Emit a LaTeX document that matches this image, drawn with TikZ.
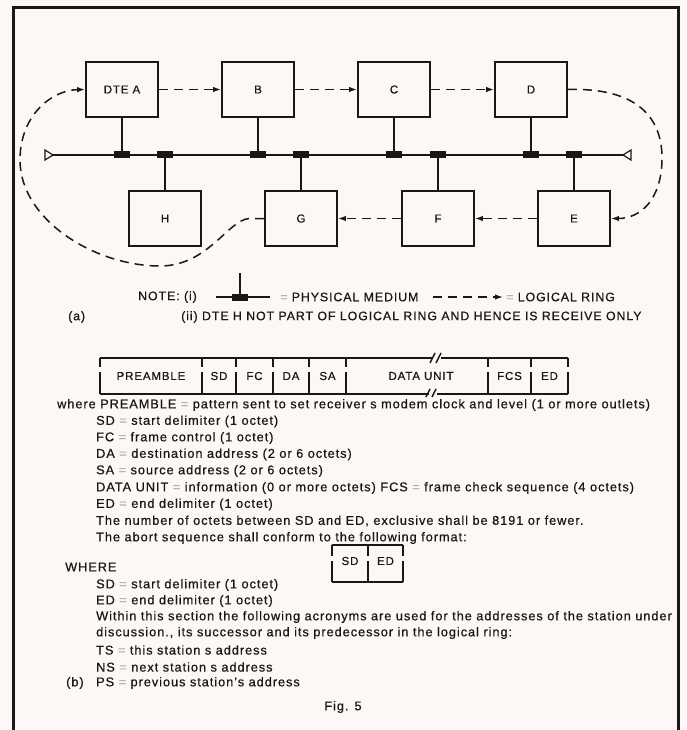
\documentclass[tikz,border=0pt]{standalone}
\usepackage{fontspec}
\setmainfont{Liberation Sans}[LetterSpace=7.5,FakeBold=0.6]
\usetikzlibrary{arrows.meta}
\definecolor{paper}{RGB}{251,248,246}
\definecolor{ink}{RGB}{25,23,23}
\newcommand\eqg{\textcolor{black!30}{=}}
\begin{document}
\begin{tikzpicture}[x=1pt,y=-1pt,
  box/.style={draw=ink,text=ink,line width=1.8pt,minimum width=72pt,minimum height=55pt,inner sep=0pt,font=\fontsize{11.5}{13}\selectfont},
  tapblk/.style={fill=ink,minimum width=16pt,minimum height=7pt,inner sep=0pt},
  tapline/.style={draw=ink,line width=1.7pt},
  busline/.style={draw=ink,line width=1.6pt},
  term/.style={draw=ink,line width=1.2pt,fill=paper},
  ringarrow/.style={draw=ink,line width=1.5pt,dash pattern=on 9pt off 6pt,-{Latex[length=8pt,width=5.5pt]}},
  body/.style={anchor=west,inner sep=0pt,text=ink,font=\fontsize{12.75}{15}\selectfont},
  notetxt/.style={anchor=west,inner sep=0pt,text=ink,font=\fontsize{12.35}{14}\selectfont},
  fld/.style={inner sep=0pt,text=ink,font=\fontsize{11.5}{13}\selectfont},
  fline/.style={draw=ink,line width=1.4pt},
]
\useasboundingbox (0,0) rectangle (686,730);
\fill[paper] (0,0) rectangle (686,730);
% outer frame
\draw[ink,line width=3pt,line join=miter] (13,745) -- (13,8) -- (678.5,8) -- (678.5,745);

% stations
\node[box] (A) at (122,89.5) {DTE A};
\node[box] (B) at (258,89.5) {B};
\node[box] (C) at (394,89.5) {C};
\node[box] (D) at (531,89.5) {D};
\node[box] (H) at (165,218.5) {H};
\node[box] (G) at (301,218.5) {G};
\node[box] (F) at (438,218.5) {F};
\node[box] (E) at (574,218.5) {E};

% bus
\coordinate (busL) at (53,155);
\coordinate (busR) at (623,155);
\draw[busline] (busL) -- (busR);
\draw[term] (busL) -- (45,150) -- (45,160) -- cycle;
\draw[term] (busR) -- (631,150) -- (631,160) -- cycle;

% taps
\foreach \s in {A,B,C,D}{
  \node[tapblk] (t\s) at (\s.south |- busL) {};
  \draw[tapline] (\s.south) -- (t\s.center);
}
\foreach \s in {H,G,F,E}{
  \node[tapblk] (t\s) at (\s.north |- busL) {};
  \draw[tapline] (\s.north) -- (t\s.center);
}

% logical ring
\draw[ringarrow] (A.east) -- (B.west);
\draw[ringarrow] (B.east) -- (C.west);
\draw[ringarrow] (C.east) -- (D.west);
\draw[ringarrow] (D.east) -- ++(12,0) .. controls (640,91) and (662,120) .. (662,158) .. controls (662,200) and (640,218.5) .. (E.east);
\draw[ringarrow] (E.west) -- (F.east);
\draw[ringarrow] (F.west) -- (G.east);
\draw[ringarrow] (G.west) -- ++(-15,0) .. controls (228,220) and (208,266) .. (160,266) .. controls (95,266) and (20,220) .. (20,160) .. controls (20,115) and (52,90) .. (A.west);

% note
\node[notetxt] (note) at (138,297) {NOTE: (i)};
\coordinate (nL) at (216,297);
\coordinate (nR) at (270,297);
\coordinate (nT) at (240,273);
\draw[busline] (nL) -- (nR);
\node[tapblk] (nblk) at (240,297) {};
\draw[tapline] (nT) -- (nblk.center);
\node[notetxt] (pm) at (280,297) {\eqg{} PHYSICAL MEDIUM};
\coordinate (dL) at (433,297);
\coordinate (dR) at (503,297);
\draw[ringarrow] (dL) -- (dR);
\node[notetxt] (lr) at (506,297) {\eqg{} LOGICAL RING};
\node[notetxt] (pa) at (68,317) {(a)};
\node[notetxt] (ii) at (181,317) {(ii) DTE H NOT PART OF LOGICAL RING AND HENCE IS RECEIVE ONLY};

% frame format
\draw[fline] (100,358) -- (433,358);
\draw[fline] (441,358) -- (568,358);
\draw[fline] (430,363) -- (435,353);
\draw[fline] (436,363) -- (441,353);
\draw[fline] (100,394) -- (429,394);
\draw[fline] (437,394) -- (568,394);
\draw[fline] (426,397) -- (430,389);
\draw[fline] (432,397) -- (436,389);
\foreach \x in {100,202,236,273,309,346,488,531,568}{
  \draw[fline] (\x,358) -- (\x,367);
  \draw[fline] (\x,372) -- (\x,394);
}
\node[fld] (fPRE) at (151,376) {PREAMBLE};
\node[fld] (fSD) at (219,376) {SD};
\node[fld] (fFC) at (254.5,376) {FC};
\node[fld] (fDA) at (291,376) {DA};
\node[fld] (fSA) at (327.5,376) {SA};
\node[fld] (fDU) at (421,376) {DATA UNIT};
\node[fld] (fFCS) at (509.5,376) {FCS};
\node[fld] (fED) at (549.5,376) {ED};

% definitions
\node[body] (w0) at (57,405) {where PREAMBLE \eqg{} pattern sent to set receiver s modem clock and level (1 or more outlets)};
\node[body] (w1) at (96,421.5) {SD \eqg{} start delimiter (1 octet)};
\node[body] (w2) at (96,438) {FC \eqg{} frame control (1 octet)};
\node[body] (w3) at (96,454.5) {DA \eqg{} destination address (2 or 6 octets)};
\node[body] (w4) at (96,471) {SA \eqg{} source address (2 or 6 octets)};
\node[body] (w5) at (96,488) {DATA UNIT \eqg{} information (0 or more octets) FCS \eqg{} frame check sequence (4 octets)};
\node[body] (w6) at (96,504.5) {ED \eqg{} end delimiter (1 octet)};
\node[body] (w7) at (96,521) {The number of octets between SD and ED, exclusive shall be 8191 or fewer.};
\node[body] (w8) at (96,538) {The abort sequence shall conform to the following format:};

% abort sequence
\draw[fline] (332,545) -- (403,545);
\draw[fline] (332,582) -- (403,582);
\foreach \x in {332,368,403}{
  \draw[fline] (\x,545) -- (\x,556);
  \draw[fline] (\x,561) -- (\x,582);
}
\node[fld] (aSD) at (350,561) {SD};
\node[fld] (aED) at (385.5,561) {ED};

\node[body] (v0) at (65,567) {WHERE};
\node[body] (v1) at (96,585) {SD \eqg{} start delimiter (1 octet)};
\node[body] (v2) at (96,601) {ED \eqg{} end delimiter (1 octet)};
\node[body] (v3) at (96,617) {Within this section the following acronyms are used for the addresses of the station under};
\node[body] (v4) at (96,633) {discussion., its successor and its predecessor in the logical ring:};
\node[body] (v5) at (96,650) {TS \eqg{} this station s address};
\node[body] (v6) at (96,667) {NS \eqg{} next station s address};
\node[body] (v7) at (96,683) {PS \eqg{} previous station's address};
\node[body] (pb) at (66,683) {(b)};
\node[body,anchor=center] (fig) at (343,707) {Fig. 5};
\end{tikzpicture}
\end{document}
